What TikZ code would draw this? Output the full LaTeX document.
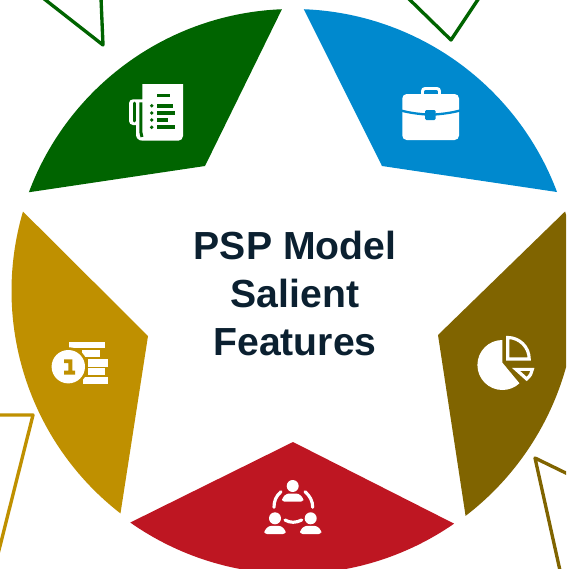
\documentclass[tikz,border=0pt]{standalone}
\usepackage{fontspec, tkz-euclide}
\setmainfont{Liberation Sans}
\definecolor{fgreen}{HTML}{006400}
\definecolor{fblue}{HTML}{0089CE}
\definecolor{fbrown}{HTML}{806400}
\definecolor{fred}{HTML}{BE1622}
\definecolor{fgold}{HTML}{BF9000}
\definecolor{fnavy}{HTML}{0B2030}
\tikzset{outline/.style={line width=1.9pt, line join=round},
    icon/.style={fill=white, draw=none},
    iconline/.style={draw=white, line width=1.8pt, fill=none},
    petal/.style={draw=none}}

\begin{document}
\begin{tikzpicture}[x=0.02cm, y=-0.02cm]
    \clip (0,0) rectangle (566,569);
    \useasboundingbox (0,0) rectangle (566,569);
    \tkzDefPoints{293/291/O, 205/166/G, 382/166/B, 438/335/K, 293/442/R, 148/336/Y}
    \tkzDefPoints{103/45/g1, 101/-2/g2, 43/-2/g3, 451/40/b1, 408/-2/b2, 479/-2/b3}
    \tkzDefPoints{33/415/y1, -4/415/y2, -4/562/y3, 535/458/k1, 572/476/k2, 561/575/k3}
    % corner triangles
    \draw[outline, fgreen] (g2) -- (g1) -- (g3);
    \draw[outline, fgreen] (b2) -- (b1) -- (b3);
    \draw[outline, fgold] (y2) -- (y1) -- (y3);
    \draw[outline, fbrown] (k2) -- (k1) -- (k3);
    % five petals
    \fill[petal, fgreen] (G) -- ($(O)+(200.5:282)$) arc[start angle=200.5, end angle=267.75, radius=282] -- cycle;
    \fill[petal, fblue] (B) -- ($(O)+(272.2:282)$) arc[start angle=272.2, end angle=339.45, radius=282] -- cycle;
    \fill[petal, fbrown] (K) -- ($(O)+(343.7:283.5)$) arc[start angle=343.7, end angle=412.5, radius=283.5] -- cycle;
    \fill[petal, fred] (R) -- ($(O)+(55.3:283)$) arc[start angle=55.3, end angle=125.1, radius=283] -- cycle;
    \fill[petal, fgold] (Y) -- ($(O)+(127.8:281.5)$) arc[start angle=127.8, end angle=196.4, radius=281.5] -- cycle;
    \node (title) at (295,293.5) [align=center, text=fnavy, font=\fontsize{22.3}{27.1}\selectfont\bfseries] {PSP Model\\Salient\\Features};
    % fax
    \fill[icon] (142.3,84) -- (183,84) -- (183,136) arc[start angle=0, end angle=90, radius=4.7] -- (143,140.7) .. controls (138,140.7) and (136,138) .. (136,134) -- (136,125) -- (133,125) arc[start angle=90, end angle=180, radius=4] -- (129,103.3) arc[start angle=180, end angle=270, radius=4] -- (142.3,99.3) -- cycle;
    \draw[fgreen, line width=1.7pt, line cap=round] (134.3,103) -- (134.3,121);
    \draw[fgreen, line width=1.7pt] (140.8,102.3) -- (140.8,132) -- (142,137);
    \fill[fgreen] (157.3,94) rectangle (170,96.7);
    \foreach \y/\xe in {105.7/173.3, 113/175.3, 120/168, 127.3/175.3} {
        \fill[fgreen] (157.3,\y-2) rectangle (\xe,\y+2);
        \fill[fgreen] (151.7,\y) circle (1.9);
    }
    % briefcase
    \draw[draw=white, line width=1.7pt, rounded corners=1.5pt] (422.5,95) -- (422.5,88.5) -- (439.5,88.5) -- (439.5,95);
    \fill[icon, rounded corners=2.5pt] (402.3,94) rectangle (459,140);
    \draw[fblue, line width=1.3pt] (401,110.5) .. controls (410,113) and (420,114) .. (426,114.5);
    \draw[fblue, line width=1.3pt] (435,114.5) .. controls (441,114) and (451,113) .. (460,110.5);
    \fill[fblue, rounded corners=0.8pt] (425,110) rectangle (435.7,120);
    % pie chart
    \fill[icon] (502.4,362.7) -- (502.4,340) arc[start angle=270, end angle=47, radius=25] -- cycle;
    \draw[iconline, line join=miter] (507.7,359) -- (507.7,337.5) arc[start angle=270, end angle=360, radius=21.5] -- cycle;
    \draw[iconline, line join=miter] (516,369.4) -- (532.3,369.4) .. controls (532,373) and (530,376) .. (526.7,379) -- cycle;
    % people
    \foreach \hx/\hy in {292.7/486, 275/518.3, 310.7/518.3} {
        \fill[icon] (\hx,\hy) circle (6);
        \fill[icon, rounded corners=1.5pt] (\hx-10.6,\hy+15.7) -- (\hx-10.6,\hy+12) -- (\hx-6,\hy+7.5) -- (\hx+6,\hy+7.5) -- (\hx+10.6,\hy+12) -- (\hx+10.6,\hy+15.7) -- cycle;
    }
    \draw[iconline, line cap=round] (281,491.7) .. controls (276,496) and (274,501) .. (274,507.3);
    \draw[iconline, line cap=round] (305,491.7) .. controls (310,496) and (312.7,501) .. (312.7,507.3);
    \draw[iconline, line cap=round] (285,520) .. controls (290,523) and (296,523) .. (301.7,520);
    % coins
    \fill[icon] (69.3,341.7) rectangle (105,347.7);
    \fill[icon] (82,350) rectangle (100,356.7);
    \fill[icon] (88,359.3) rectangle (108.3,366.7);
    \fill[icon] (88,368.3) rectangle (105,375);
    \fill[icon] (83,377.3) rectangle (108.3,384);
    \fill[fgold] (68.3,366.7) circle (19.5);
    \fill[icon] (68.3,366.7) circle (16.7);
    \fill[fgold] (64,359.3) -- (72.3,359.3) -- (72.3,370.7) -- (75,370.7) -- (75,374.5) -- (64,374.5) -- (64,370.7) -- (68.3,370.7) -- (68.3,363) -- (64,363) -- cycle;
\end{tikzpicture}
\end{document}
